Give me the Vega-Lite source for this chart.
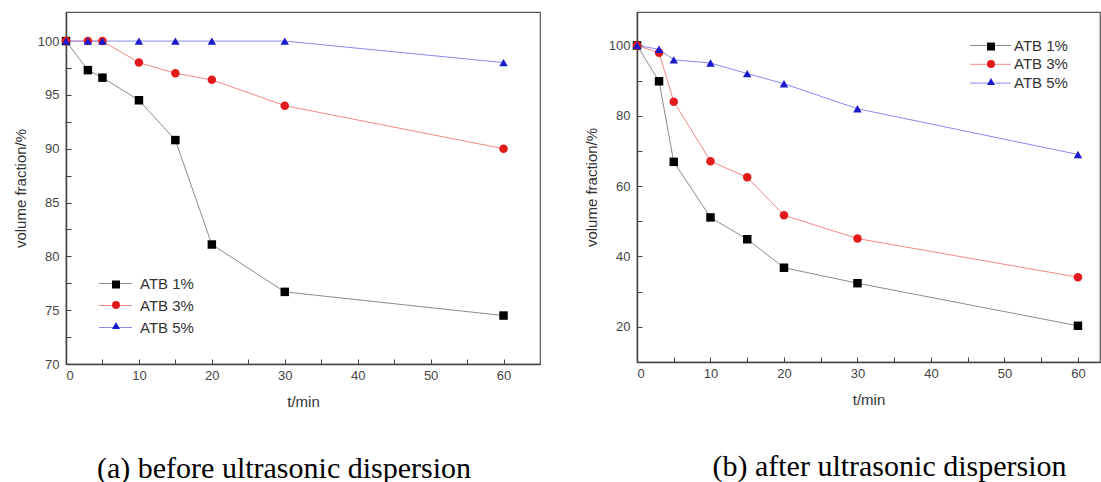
{
  "$schema": "https://vega.github.io/schema/vega-lite/v6.json",
  "padding": {"left": 12, "top": 11, "right": 0, "bottom": 0},
  "spacing": 42,
  "background": "white",
  "datasets": {
    "before": [
      {"series": "ATB 1%", "t": 0, "v": 100}, {"series": "ATB 1%", "t": 3, "v": 97.3}, {"series": "ATB 1%", "t": 5, "v": 96.6}, {"series": "ATB 1%", "t": 10, "v": 94.5}, {"series": "ATB 1%", "t": 15, "v": 90.8}, {"series": "ATB 1%", "t": 20, "v": 81.1}, {"series": "ATB 1%", "t": 30, "v": 76.7}, {"series": "ATB 1%", "t": 60, "v": 74.5},
      {"series": "ATB 3%", "t": 0, "v": 100}, {"series": "ATB 3%", "t": 3, "v": 100}, {"series": "ATB 3%", "t": 5, "v": 100}, {"series": "ATB 3%", "t": 10, "v": 98}, {"series": "ATB 3%", "t": 15, "v": 97}, {"series": "ATB 3%", "t": 20, "v": 96.4}, {"series": "ATB 3%", "t": 30, "v": 94}, {"series": "ATB 3%", "t": 60, "v": 90},
      {"series": "ATB 5%", "t": 0, "v": 100}, {"series": "ATB 5%", "t": 3, "v": 100}, {"series": "ATB 5%", "t": 5, "v": 100}, {"series": "ATB 5%", "t": 10, "v": 100}, {"series": "ATB 5%", "t": 15, "v": 100}, {"series": "ATB 5%", "t": 20, "v": 100}, {"series": "ATB 5%", "t": 30, "v": 100}, {"series": "ATB 5%", "t": 60, "v": 98}
    ],
    "after": [
      {"series": "ATB 1%", "t": 0, "v": 100}, {"series": "ATB 1%", "t": 3, "v": 89.8}, {"series": "ATB 1%", "t": 5, "v": 66.9}, {"series": "ATB 1%", "t": 10, "v": 51.1}, {"series": "ATB 1%", "t": 15, "v": 44.9}, {"series": "ATB 1%", "t": 20, "v": 36.8}, {"series": "ATB 1%", "t": 30, "v": 32.4}, {"series": "ATB 1%", "t": 60, "v": 20.3},
      {"series": "ATB 3%", "t": 0, "v": 100}, {"series": "ATB 3%", "t": 3, "v": 97.9}, {"series": "ATB 3%", "t": 5, "v": 84}, {"series": "ATB 3%", "t": 10, "v": 67.1}, {"series": "ATB 3%", "t": 15, "v": 62.5}, {"series": "ATB 3%", "t": 20, "v": 51.7}, {"series": "ATB 3%", "t": 30, "v": 45.1}, {"series": "ATB 3%", "t": 60, "v": 34.1},
      {"series": "ATB 5%", "t": 0, "v": 100}, {"series": "ATB 5%", "t": 3, "v": 98.9}, {"series": "ATB 5%", "t": 5, "v": 95.9}, {"series": "ATB 5%", "t": 10, "v": 95}, {"series": "ATB 5%", "t": 15, "v": 92}, {"series": "ATB 5%", "t": 20, "v": 89.1}, {"series": "ATB 5%", "t": 30, "v": 82}, {"series": "ATB 5%", "t": 60, "v": 69}
    ]
  },
  "config": {
    "font": "Liberation Sans",
    "view": {"stroke": "#555", "strokeWidth": 1.2},
    "axis": {
      "grid": false,
      "domainColor": "#444", "domainWidth": 1.5,
      "tickColor": "#444", "tickWidth": 1, "tickSize": -5,
      "labelFont": "Liberation Sans", "labelFontSize": 13, "labelColor": "#444",
      "titleFont": "Liberation Sans", "titleFontSize": 15, "titleColor": "#333", "titleFontWeight": "normal"
    },
    "axisX": {"labelPadding": 10, "titlePadding": 12},
    "axisY": {"labelPadding": 12, "titlePadding": 9},
    "legend": {"padding": 0, "title": null}
  },
  "hconcat": [
    {
      "width": 474,
      "height": 352,
      "data": {"name": "before"},
      "title": {"text": "(a) before ultrasonic dispersion", "orient": "bottom", "anchor": "middle", "frame": "group", "offset": 45, "dx": -19, "font": "Liberation Serif", "fontSize": 30, "fontWeight": "normal", "color": "#000"},
      "encoding": {
        "x": {"field": "t", "type": "quantitative", "scale": {"domain": [0, 65], "nice": false, "zero": false},
              "axis": {"title": "t/min", "values": [0, 5, 10, 15, 20, 25, 30, 35, 40, 45, 50, 55, 60], "labelExpr": "datum.value % 10 === 0 ? datum.label : ''"}},
        "y": {"field": "v", "type": "quantitative", "scale": {"domain": [70, 102.7], "nice": false, "zero": false},
              "axis": {"title": "volume fraction/%", "values": [70, 72.5, 75, 77.5, 80, 82.5, 85, 87.5, 90, 92.5, 95, 97.5, 100], "labelExpr": "datum.value % 5 === 0 ? datum.label : ''"}}
      },
      "layer": [
        {
          "mark": {"type": "line", "strokeWidth": 1},
          "encoding": {
            "color": {"field": "series", "type": "nominal",
                      "scale": {"domain": ["ATB 1%", "ATB 3%", "ATB 5%"], "range": ["#8c8c8c", "#f08a8a", "#8a8af0"]},
                      "legend": {"orient": "none", "legendX": 42, "legendY": 264, "symbolType": "M-2.36,0H2.36", "symbolSize": 196, "symbolStrokeWidth": 1, "labelFont": "Liberation Sans", "labelFontSize": 15, "labelColor": "#333", "labelOffset": 17, "rowPadding": 6}}
          }
        },
        {
          "mark": {"type": "point", "filled": true, "size": 72, "opacity": 1},
          "encoding": {
            "color": {"field": "series", "type": "nominal",
                      "scale": {"domain": ["ATB 1%", "ATB 3%", "ATB 5%"], "range": ["#000000", "#e31a1c", "#1a1acc"]},
                      "legend": {"orient": "none", "legendX": 45, "legendY": 267.5, "symbolSize": 64, "symbolStrokeWidth": 0, "symbolOpacity": 1, "labelExpr": "''", "rowPadding": 10.5}},
            "shape": {"field": "series", "type": "nominal",
                      "scale": {"domain": ["ATB 1%", "ATB 3%", "ATB 5%"], "range": ["square", "circle", "triangle-up"]},
                      "legend": {"orient": "none", "legendX": 45, "legendY": 267.5, "symbolSize": 64, "symbolStrokeWidth": 0, "symbolOpacity": 1, "labelExpr": "''", "rowPadding": 10.5}}
          }
        }
      ],
      "resolve": {"scale": {"color": "independent", "shape": "independent"}, "legend": {"color": "independent", "shape": "independent"}}
    },
    {
      "width": 463,
      "height": 350,
      "data": {"name": "after"},
      "title": {"text": "(b) after ultrasonic dispersion", "orient": "bottom", "anchor": "middle", "frame": "group", "offset": 45, "dx": 21, "font": "Liberation Serif", "fontSize": 30, "fontWeight": "normal", "color": "#000"},
      "encoding": {
        "x": {"field": "t", "type": "quantitative", "scale": {"domain": [0, 63], "nice": false, "zero": false},
              "axis": {"title": "t/min", "values": [0, 5, 10, 15, 20, 25, 30, 35, 40, 45, 50, 55, 60], "labelExpr": "datum.value % 10 === 0 ? datum.label : ''"}},
        "y": {"field": "v", "type": "quantitative", "scale": {"domain": [10, 109.5], "nice": false, "zero": false},
              "axis": {"title": "volume fraction/%", "values": [20, 30, 40, 50, 60, 70, 80, 90, 100], "labelExpr": "datum.value % 20 === 0 ? datum.label : ''"}}
      },
      "layer": [
        {
          "mark": {"type": "line", "strokeWidth": 1},
          "encoding": {
            "color": {"field": "series", "type": "nominal",
                      "scale": {"domain": ["ATB 1%", "ATB 3%", "ATB 5%"], "range": ["#8c8c8c", "#f08a8a", "#8a8af0"]},
                      "legend": {"orient": "none", "legendX": 346, "legendY": 26, "symbolType": "M-2.93,0H2.93", "symbolSize": 196, "symbolStrokeWidth": 1, "labelFont": "Liberation Sans", "labelFontSize": 15, "labelColor": "#333", "labelOffset": 16, "rowPadding": 2.8}}
          }
        },
        {
          "mark": {"type": "point", "filled": true, "size": 72, "opacity": 1},
          "encoding": {
            "color": {"field": "series", "type": "nominal",
                      "scale": {"domain": ["ATB 1%", "ATB 3%", "ATB 5%"], "range": ["#000000", "#e31a1c", "#1a1acc"]},
                      "legend": {"orient": "none", "legendX": 349, "legendY": 29.5, "symbolSize": 64, "symbolStrokeWidth": 0, "symbolOpacity": 1, "labelExpr": "''", "rowPadding": 7.5}},
            "shape": {"field": "series", "type": "nominal",
                      "scale": {"domain": ["ATB 1%", "ATB 3%", "ATB 5%"], "range": ["square", "circle", "triangle-up"]},
                      "legend": {"orient": "none", "legendX": 349, "legendY": 29.5, "symbolSize": 64, "symbolStrokeWidth": 0, "symbolOpacity": 1, "labelExpr": "''", "rowPadding": 7.5}}
          }
        }
      ],
      "resolve": {"scale": {"color": "independent", "shape": "independent"}, "legend": {"color": "independent", "shape": "independent"}}
    }
  ]
}
